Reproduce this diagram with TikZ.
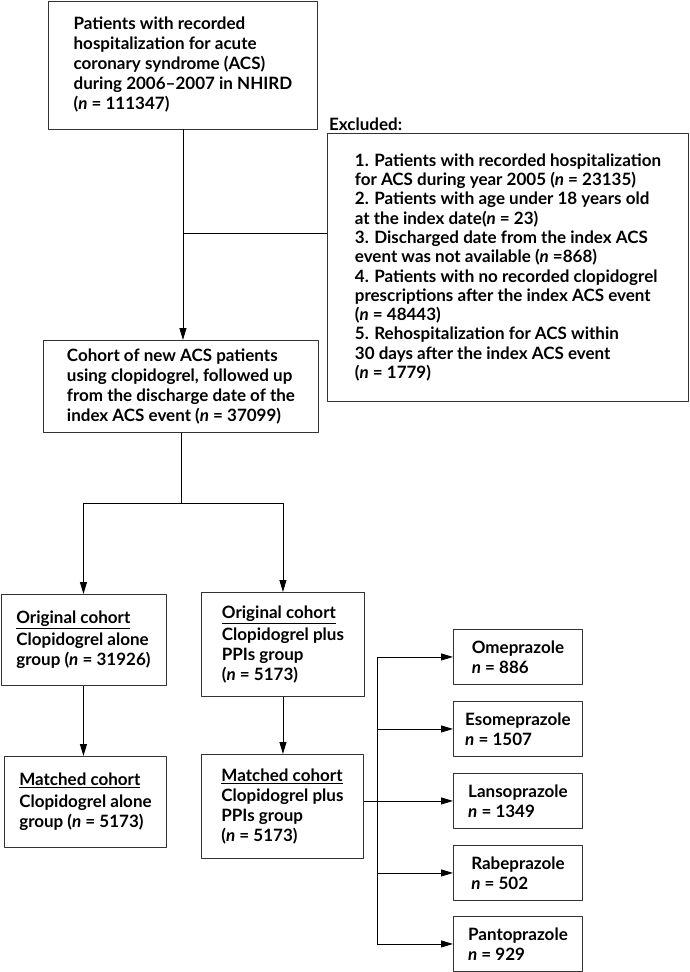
\documentclass[tikz,border=0pt]{standalone}
\usepackage{fontspec}
\setmainfont{Lato}
\usetikzlibrary{arrows.meta}

\begin{document}
\begin{tikzpicture}[x=1pt,y=-1pt,line join=round,
    box/.style={draw=black!80,line width=0.9pt,anchor=north west,align=left,inner sep=0pt,
      font=\bfseries\fontsize{17}{20}\selectfont},
    link/.style={line width=0.9pt},
    arr/.style={link,-{Triangle[length=12pt,width=7pt]}}]
    \useasboundingbox (0,0) rectangle (689,972);
    % boxes
    \node[box,minimum width=269,minimum height=128] (src) at (48,0.5)
      {Patients with recorded\\hospitalization for acute\\coronary syndrome (ACS)\\during 2006--2007 in NHIRD\\(\textit{n} = 111347)};
    \node[box,minimum width=361,minimum height=268,font=\bfseries\fontsize{17}{19.3}\selectfont] (excl) at (327,133)
      {1. Patients with recorded hospitalization\\for ACS during year 2005 (\textit{n} = 23135)\\2. Patients with age under 18 years old\\at the index date(\textit{n} = 23)\\3. Discharged date from the index ACS\\event was not available (\textit{n} =868)\\4. Patients with no recorded clopidogrel\\prescriptions after the index ACS event\\(\textit{n} = 48443)\\5. Rehospitalization for ACS within\\30 days after the index ACS event\\(\textit{n} = 1779)};
    \node[anchor=south west,inner sep=2pt,font=\bfseries\fontsize{17}{20}\selectfont] (exclTitle) at (excl.north west) {Excluded:};
    \node[box,minimum width=275,minimum height=92] (cohort) at (43,340)
      {Cohort of new ACS patients\\using clopidogrel, followed up\\from the discharge date of the\\index ACS event (\textit{n} = 37099)};
    \node[box,minimum width=165,minimum height=91] (origA) at (0.5,594)
      {\underline{Original cohort}\\[2pt]Clopidogrel alone\\group (\textit{n} = 31926)};
    \node[box,minimum width=163,minimum height=104] (origB) at (201,592)
      {\underline{Original cohort}\\[2pt]Clopidogrel plus\\PPIs group\\(\textit{n} = 5173)};
    \node[box,minimum width=162,minimum height=91] (matchA) at (4,756)
      {\underline{Matched cohort}\\[2pt]Clopidogrel alone\\group (\textit{n} = 5173)};
    \node[box,minimum width=162,minimum height=104] (matchB) at (201,754)
      {\underline{Matched cohort}\\Clopidogrel plus\\PPIs group\\(\textit{n} = 5173)};
    \node[box,minimum width=129,minimum height=55] (ome) at (453,629) {Omeprazole\\\textit{n} = 886};
    \node[box,minimum width=129,minimum height=55] (esome) at (453,701) {Esomeprazole\\\textit{n} = 1507};
    \node[box,minimum width=129,minimum height=55] (lanso) at (453,773) {Lansoprazole\\\textit{n} = 1349};
    \node[box,minimum width=129,minimum height=55] (rabe) at (453,845) {Rabeprazole\\\textit{n} = 502};
    \node[box,minimum width=129,minimum height=55] (panto) at (453,916) {Pantoprazole\\\textit{n} = 929};
    % junctions
    \coordinate (exclIn) at (327,233);
    \coordinate (split) at (183,503);
    \coordinate (spine) at (377,800);
    % connectors
    \draw[arr] (src.south) -- (src.south |- cohort.north);
    \draw[link] (exclIn) -- (exclIn -| src.south);
    \draw[link] (cohort.south) -- (cohort.south |- split);
    \draw[arr] (split) -| (origA.north);
    \draw[arr] (split) -| (origB.north);
    \draw[arr] (origA.south) -- (origA.south |- matchA.north);
    \draw[arr] (origB.south) -- (origB.south |- matchB.north);
    \draw[arr] (matchB.east |- lanso.west) -- (lanso.west);
    \draw[link] (spine |- ome.west) -- (spine |- panto.west);
    \draw[arr] (spine |- ome.west) -- (ome.west);
    \draw[arr] (spine |- esome.west) -- (esome.west);
    \draw[arr] (spine |- rabe.west) -- (rabe.west);
    \draw[arr] (spine |- panto.west) -- (panto.west);
\end{tikzpicture}
\end{document}
